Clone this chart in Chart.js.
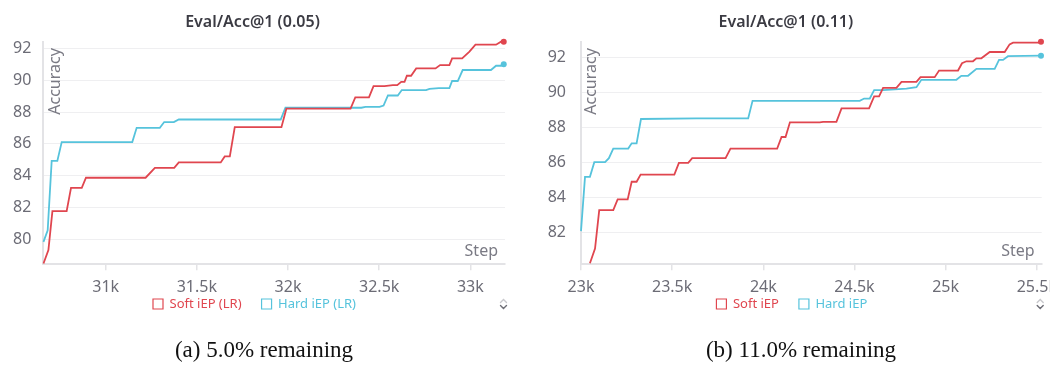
<!DOCTYPE html>
<html>
<head>
<meta charset="utf-8">
<title>Eval/Acc@1</title>
<script src="https://cdn.jsdelivr.net/npm/chart.js@4.4.1/dist/chart.umd.min.js"></script>
<style>
  html, body { margin: 0; padding: 0; background: #ffffff; }
  body { width: 1060px; height: 367px; position: relative; overflow: hidden; }
  canvas { position: absolute; top: 0; }
  #chartA { left: 0; }
  #chartB { left: 530px; }
  .caption {
    position: absolute; top: 337px; width: 240px; text-align: center;
    font-family: "Liberation Serif", "Times New Roman", serif; font-size: 23px;
    line-height: 26px; color: #111111; white-space: nowrap;
  }
  #capA { left: 144px; }
  #capB { left: 681px; }
</style>
</head>
<body>
<canvas id="chartA" width="530" height="342"></canvas>
<canvas id="chartB" width="520" height="342"></canvas>
<div class="caption" id="capA">(a) 5.0% remaining</div>
<div class="caption" id="capB">(b) 11.0% remaining</div>

<script>
// ---- Panel (a): Eval/Acc@1 (0.05) ----
const titleA = 'Eval/Acc@1 (0.05)';
const labelsA = ['Soft iEP (LR)', 'Hard iEP (LR)'];
const softStepsA = [30659, 30686, 30708, 30786, 30810, 30869, 30892, 31219, 31270, 31376,
  31401, 31631, 31653, 31681, 31708, 31964, 31991, 32343, 32369, 32444,
  32469, 32529, 32575, 32599, 32621, 32639, 32652, 32675, 32703, 32809,
  32834, 32885, 32900, 32955, 32995, 33028, 33141, 33168, 33183];
const softAccA = [78.48, 79.32, 81.77, 81.77, 83.23, 83.23, 83.87, 83.87, 84.49, 84.49,
  84.83, 84.83, 85.21, 85.21, 87.05, 87.05, 88.21, 88.21, 88.92, 88.92,
  89.63, 89.63, 89.69, 89.69, 89.90, 89.90, 90.28, 90.28, 90.74, 90.74,
  90.95, 90.95, 91.37, 91.37, 91.80, 92.23, 92.23, 92.42, 92.42];
const hardStepsA = [30659, 30682, 30704, 30735, 30759, 31146, 31170, 31297, 31321, 31374,
  31401, 31960, 31986, 32402, 32425, 32502, 32524, 32548, 32602, 32624,
  32757, 32776, 32827, 32885, 32900, 32931, 32958, 33113, 33141, 33168, 33183];
const hardAccA = [79.84, 80.57, 84.93, 84.93, 86.11, 86.11, 87.01, 87.01, 87.37, 87.37,
  87.53, 87.53, 88.27, 88.27, 88.33, 88.33, 88.41, 89.04, 89.04, 89.38,
  89.38, 89.46, 89.50, 89.50, 89.95, 89.95, 90.64, 90.64, 90.91, 90.91, 91.01];
const stepRangeA = [30658, 33190];
const stepTicksA = [31000, 31500, 32000, 32500, 33000];
const accRangeA = [78.43, 92.42];
const accTicksA = [80, 82, 84, 86, 88, 90, 92];

// ---- Panel (b): Eval/Acc@1 (0.11) ----
const titleB = 'Eval/Acc@1 (0.11)';
const labelsB = ['Soft iEP', 'Hard iEP'];
const softStepsB = [23049, 23077, 23100, 23177, 23201, 23256, 23278, 23305, 23327, 23512,
  23537, 23588, 23610, 23793, 23820, 24076, 24100, 24122, 24146, 24310,
  24328, 24401, 24429, 24580, 24608, 24635, 24657, 24730, 24758, 24840,
  24862, 24940, 24964, 25068, 25090, 25114, 25150, 25169, 25196, 25242,
  25324, 25351, 25370, 25516, 25523];
const softAccB = [80.22, 81.06, 83.26, 83.26, 83.87, 83.87, 84.88, 84.88, 85.29, 85.29,
  85.96, 85.96, 86.23, 86.23, 86.78, 86.78, 87.44, 87.44, 88.28, 88.28,
  88.31, 88.31, 89.08, 89.08, 89.76, 89.76, 90.25, 90.25, 90.59, 90.59,
  90.86, 90.86, 91.24, 91.24, 91.66, 91.77, 91.77, 91.94, 91.94, 92.30,
  92.30, 92.74, 92.84, 92.84, 92.89];
const hardStepsB = [23000, 23022, 23049, 23073, 23132, 23153, 23177, 23259, 23278, 23305,
  23329, 23634, 23917, 23941, 24529, 24553, 24584, 24608, 24657, 24785,
  24840, 24867, 25059, 25086, 25123, 25169, 25269, 25293, 25315, 25342, 25523];
const hardAccB = [82.06, 85.16, 85.16, 86.00, 86.00, 86.23, 86.78, 86.78, 87.08, 87.08,
  88.47, 88.50, 88.50, 89.51, 89.51, 89.64, 89.64, 90.12, 90.12, 90.21,
  90.29, 90.71, 90.71, 90.94, 90.94, 91.34, 91.34, 91.85, 91.85, 92.06, 92.09];
const stepRangeB = [23000, 25527];
const stepTicksB = [23000, 23500, 24000, 24500, 25000, 25500];
const accRangeB = [80.16, 92.89];
const accTicksB = [82, 84, 86, 88, 90, 92];

// ---- shared styling ----
const RED = '#e0464f';
const CYAN = '#56c3dc';
const TICK_COLOR = '#6c6c76';
const FONT = '"Noto Sans", "Open Sans", sans-serif';

function pairs(xs, ys) {
  return xs.map((x, i) => ({ x: x, y: ys[i] }));
}

function lastDot(n) {
  return Array.from({ length: n }, (_, i) => (i === n - 1 ? 3 : 0));
}

// Axis captions drawn inside the plot area, plus the small scroll chevrons
// next to the legend.
const innerLabels = {
  id: 'innerLabels',
  afterLayout(chart, args, opts) {
    const lg = chart.legend;
    if (lg) {
      lg.left += opts.legendDx; lg.right += opts.legendDx;
      lg.top += opts.legendDy; lg.bottom += opts.legendDy;
    }
  },
  afterDraw(chart, args, opts) {
    const { ctx, chartArea: a } = chart;
    ctx.save();
    ctx.fillStyle = '#7a7a84';
    ctx.font = '16px ' + FONT;
    ctx.translate(a.left + opts.yTitleDx, a.top + 6.5);
    ctx.rotate(-Math.PI / 2);
    ctx.textAlign = 'right';
    ctx.textBaseline = 'middle';
    ctx.fillText('Accuracy', 0, 0);
    ctx.restore();

    ctx.save();
    ctx.fillStyle = '#7a7a84';
    ctx.font = '16px ' + FONT;
    ctx.textAlign = 'right';
    ctx.textBaseline = 'alphabetic';
    ctx.fillText('Step', a.right - 7, a.bottom - 8);
    ctx.restore();

    // scroll chevrons
    const cx = a.right - 1.5;
    const cy = 304;
    ctx.save();
    ctx.lineWidth = 1.4;
    ctx.lineCap = 'round';
    ctx.strokeStyle = '#c8c8cc';
    ctx.beginPath();
    ctx.moveTo(cx - 3, cy - 1.5);
    ctx.lineTo(cx, cy - 4.5);
    ctx.lineTo(cx + 3, cy - 1.5);
    ctx.stroke();
    ctx.strokeStyle = '#6e6e76';
    ctx.beginPath();
    ctx.moveTo(cx - 3, cy + 1.5);
    ctx.lineTo(cx, cy + 4.5);
    ctx.lineTo(cx + 3, cy + 1.5);
    ctx.stroke();
    ctx.restore();
  }
};

function buildChart(canvasId, p) {
  const datasets = [
    {
      label: p.labels[0], data: pairs(p.softSteps, p.softAcc),
      borderColor: RED, backgroundColor: RED, pointBackgroundColor: RED,
      pointBorderWidth: 0, pointRadius: lastDot(p.softSteps.length),
      borderWidth: 1.8, tension: 0, clip: 6
    },
    {
      label: p.labels[1], data: pairs(p.hardSteps, p.hardAcc),
      borderColor: CYAN, backgroundColor: CYAN, pointBackgroundColor: CYAN,
      pointBorderWidth: 0, pointRadius: lastDot(p.hardSteps.length),
      borderWidth: 1.8, tension: 0, clip: 6
    }
  ];

  return new Chart(document.getElementById(canvasId), {
    type: 'line',
    data: { datasets: datasets },
    plugins: [innerLabels],
    options: {
      responsive: false,
      animation: false,
      events: [],
      layout: {
        autoPadding: false,
        padding: { left: 0, right: p.padRight, top: 0, bottom: 0.7 }
      },
      plugins: {
        innerLabels: { yTitleDx: p.yTitleDx, legendDx: p.legendDx, legendDy: -20.8 },
        title: {
          display: true, text: p.title, color: '#3b3b43',
          font: { family: FONT, size: 16, weight: '600' },
          padding: { top: 13, bottom: 9.5 }
        },
        legend: {
          position: 'bottom',
          labels: {
            boxWidth: 10, boxHeight: 10, padding: 20,
            font: { family: FONT, size: 13 },
            generateLabels(chart) {
              return chart.data.datasets.map((ds, i) => ({
                text: ds.label,
                fillStyle: 'rgba(255,255,255,0)',
                strokeStyle: ds.borderColor,
                fontColor: ds.borderColor,
                lineWidth: 1.2,
                hidden: false,
                datasetIndex: i
              }));
            }
          }
        },
        tooltip: { enabled: false }
      },
      scales: {
        x: {
          type: 'linear',
          min: p.stepRange[0], max: p.stepRange[1],
          afterBuildTicks(axis) { axis.ticks = p.stepTicks.map((v) => ({ value: v })); },
          afterFit(axis) { axis.height = 34; axis.paddingLeft = 0; axis.paddingRight = 0; },
          border: { color: '#e3e3e6', width: 2 },
          grid: { drawOnChartArea: false, drawTicks: true, tickLength: 6, color: '#e3e3e6', lineWidth: 1.5 },
          ticks: {
            autoSkip: false, maxRotation: 0, minRotation: 0,
            padding: 8, color: TICK_COLOR, font: { family: FONT, size: 16 },
            callback: (v) => (v / 1000) + 'k'
          }
        },
        y: {
          type: 'linear',
          min: p.accRange[0], max: p.accRange[1],
          afterBuildTicks(axis) { axis.ticks = p.accTicks.map((v) => ({ value: v })); },
          afterFit(axis) { axis.width = p.axisWidth; axis.paddingTop = 0; axis.paddingBottom = 0; },
          border: { color: '#e3e3e6', width: 2 },
          grid: { color: '#efeff1', drawTicks: false, lineWidth: 1 },
          ticks: {
            padding: p.tickPad, color: TICK_COLOR, font: { family: FONT, size: 16 }
          }
        }
      }
    }
  });
}

buildChart('chartA', {
  title: titleA, labels: labelsA,
  softSteps: softStepsA, softAcc: softAccA, hardSteps: hardStepsA, hardAcc: hardAccA,
  stepRange: stepRangeA, stepTicks: stepTicksA, accRange: accRangeA, accTicks: accTicksA,
  axisWidth: 43.3, padRight: 25, tickPad: 12, yTitleDx: 12, legendDx: 2
});

buildChart('chartB', {
  title: titleB, labels: labelsB,
  softSteps: softStepsB, softAcc: softAccB, hardSteps: hardStepsB, hardAcc: hardAccB,
  stepRange: stepRangeB, stepTicks: stepTicksB, accRange: accRangeB, accTicks: accTicksB,
  axisWidth: 51, padRight: 8.3, tickPad: 15, yTitleDx: 10.7, legendDx: 6
});
</script>
</body>
</html>
